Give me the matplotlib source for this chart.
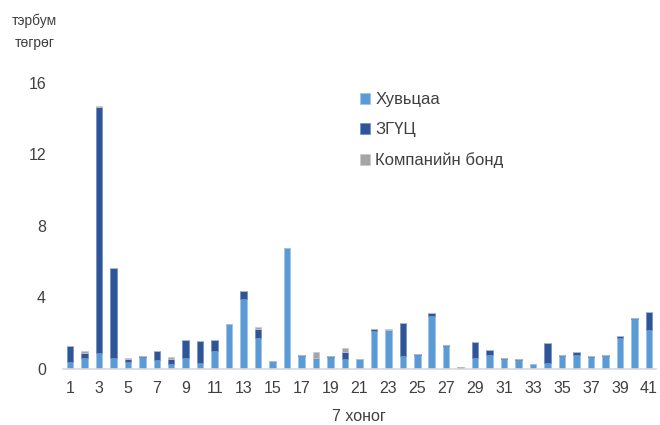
import numpy as np
import matplotlib.pyplot as plt

# Долоо хоног бүрийн арилжааны дүн (тэрбум төгрөг)
weeks = np.arange(1, 42)
huvtsaa = [0.40, 0.62, 0.88, 0.62, 0.41, 0.67, 0.47, 0.30, 0.62, 0.34,
           1.02, 2.50, 3.93, 1.73, 0.45, 6.75, 0.73, 0.60, 0.68, 0.54,
           0.57, 2.12, 2.15, 0.73, 0.80, 2.97, 1.28, 0.10, 0.62, 0.80,
           0.54, 0.48, 0.30, 0.34, 0.72, 0.80, 0.68, 0.72, 1.73, 2.78,
           2.18]
zguts = [0.90, 0.29, 13.75, 5.05, 0.13, 0.03, 0.52, 0.28, 1.02, 1.23,
         0.60, 0.00, 0.40, 0.49, 0.00, 0.00, 0.05, 0.00, 0.05, 0.43,
         0.00, 0.10, 0.00, 1.82, 0.06, 0.18, 0.05, 0.00, 0.90, 0.24,
         0.05, 0.05, 0.00, 1.10, 0.06, 0.12, 0.05, 0.06, 0.12, 0.05,
         1.03]
bond = [0.00, 0.09, 0.05, 0.00, 0.06, 0.03, 0.00, 0.07, 0.00, 0.00,
        0.00, 0.00, 0.00, 0.13, 0.00, 0.00, 0.00, 0.32, 0.00, 0.20,
        0.00, 0.00, 0.08, 0.00, 0.00, 0.00, 0.00, 0.00, 0.00, 0.00,
        0.00, 0.00, 0.00, 0.00, 0.00, 0.00, 0.00, 0.00, 0.00, 0.00,
        0.00]
labels = ["Хувьцаа", "ЗГҮЦ", "Компанийн бонд"]
colors = ["#5B9BD5", "#2F5597", "#A5A5A5"]

plt.rcParams['font.family'] = ['Liberation Sans', 'DejaVu Sans']
fig = plt.figure(figsize=(6.6, 4.25), dpi=100)
ax = fig.add_axes([0.095, 0.132, 0.899, 0.673])

w = 0.45
h = np.array(huvtsaa)
z = np.array(zguts)
b = np.array(bond)
ax.bar(weeks, h, w, color=colors[0], edgecolor="#9DC3E6", linewidth=0.5, label=labels[0])
ax.bar(weeks, z, w, bottom=h, color=colors[1], edgecolor="#6F8FC8", linewidth=0.5, label=labels[1])
ax.bar(weeks, b, w, bottom=h + z, color=colors[2], edgecolor="#C9C9C9", linewidth=0.5, label=labels[2])

ax.set_xlim(0.5, 41.5)
ax.set_ylim(0, 16)
ax.set_yticks([0, 4, 8, 12, 16])
ax.set_xticks(np.arange(1, 42, 2))
for s in ["top", "right", "left"]:
    ax.spines[s].set_visible(False)
ax.spines["bottom"].set_color("#D9D9D9")
ax.spines["bottom"].set_linewidth(1.2)
ax.tick_params(axis="both", length=0, labelsize=11.5, colors="#404040", pad=9)
ax.tick_params(axis="y", pad=12)

ax.set_xlabel("7 хоног", fontsize=11.5, color="#404040", labelpad=9)
fig.text(0.052, 0.925, "тэрбум\nтөгрөг", fontsize=10, color="#404040",
         ha="center", va="center", linespacing=1.7)

leg = ax.legend(loc="upper left", bbox_to_anchor=(0.475, 1.02), frameon=False,
                fontsize=12, handlelength=0.65, handleheight=0.65,
                handletextpad=0.3, labelspacing=0.9, labelcolor="#404040")

fig.savefig("out.png", dpi=100)
